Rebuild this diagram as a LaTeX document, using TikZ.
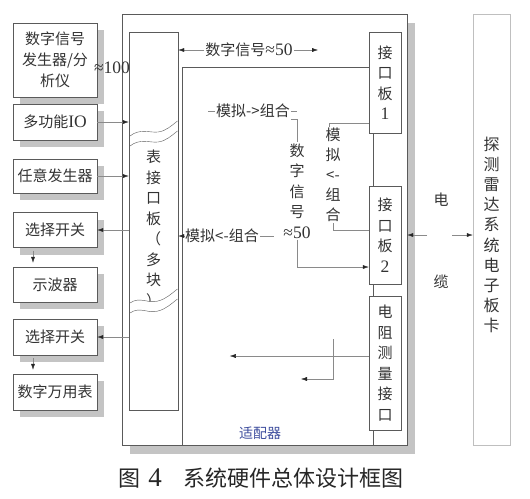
\documentclass[tikz,border=0pt]{standalone}
\usepackage{fontspec}
\setmainfont{Liberation Serif}
\newfontfamily\cjk{Noto Sans CJK SC}
\usepackage{tikz}
\usetikzlibrary{arrows.meta, positioning, shadows, calc}
\definecolor{linec}{HTML}{5A5A5A}
\definecolor{connc}{HTML}{8A8A8A}
\definecolor{shadec}{HTML}{C4C4C4}
\definecolor{txtc}{HTML}{333333}
\definecolor{adaptc}{HTML}{3E4E9E}
\newcommand{\lat}[1]{{\rmfamily\fontsize{17.5}{17.5}\selectfont #1}}

\begin{document}
\begin{tikzpicture}[x=1pt, y=-1pt,
  devbox/.style={draw=linec, fill=white, text=txtc, minimum width=84pt, inner sep=1pt, align=center,
    font=\cjk\fontsize{15}{21}\selectfont,
    drop shadow={shadow xshift=7pt, shadow yshift=-7pt, fill=shadec, opacity=1}},
  panel/.style={draw=linec, fill=white, inner sep=0pt},
  vstack/.style={text=txtc, align=center, inner sep=1pt, font=\cjk\fontsize{15}{20.5}\selectfont},
  lbl/.style={text=txtc, inner sep=1pt, font=\cjk\fontsize{15}{18}\selectfont},
  link/.style={draw=connc},
  flow/.style={link, -{Latex[length=6pt, width=4pt, color=black!85]}},
]
  \useasboundingbox (0,0) rectangle (530,498);

  % instruments on the left
  \node[devbox, minimum height=74pt] (sig) at (55,60) {数字信号\\发生器/分\\析仪};
  \node[devbox, minimum height=36pt] (mio) at (55,122) {多功能\lat{IO}};
  \node[devbox, minimum height=34pt] (awg) at (55,176) {任意发生器};
  \node[devbox, minimum height=35pt] (swa) at (55,230) {选择开关};
  \node[devbox, minimum height=35pt] (osc) at (55,284.5) {示波器};
  \node[devbox, minimum height=36pt] (swb) at (55,337) {选择开关};
  \node[devbox, minimum height=36pt] (dmm) at (55,392) {数字万用表};

  % adapter frame
  \node[panel, minimum width=285pt, minimum height=431pt,
    drop shadow={shadow xshift=8pt, shadow yshift=-9pt, fill=shadec, opacity=1}] (outer) at (264.5,229.5) {};
  \node[panel, minimum width=191pt, minimum height=378pt] (adapt) at (277.5,256) {};
  \node[panel, minimum width=49pt, minimum height=378pt] (bj) at (153.5,221) {};
  \node[vstack] (bjt) at (153.5,229) {表\\接\\口\\板\\（\\多\\块\\）};

  % broken-off marks
  \fill[white] (130,136) .. controls (140,128) and (150,133) .. (158,132) .. controls (166,131) and (171,126) .. (177.5,121)
    -- (177.5,131) .. controls (171,136) and (166,141) .. (158,142) .. controls (150,143) and (140,138) .. (130,146) -- cycle;
  \draw[linec] (130,136) .. controls (140,128) and (150,133) .. (158,132) .. controls (166,131) and (171,126) .. (177.5,121);
  \draw[linec] (130,146) .. controls (140,138) and (150,143) .. (158,142) .. controls (166,141) and (171,136) .. (177.5,131);
  \fill[white] (130,303) .. controls (140,296) and (148,304) .. (158,301) .. controls (166,299) and (171,294) .. (177.5,289)
    -- (177.5,299) .. controls (171,304) and (166,309) .. (158,311) .. controls (148,314) and (140,306) .. (130,313) -- cycle;
  \draw[linec] (130,303) .. controls (140,296) and (148,304) .. (158,301) .. controls (166,299) and (171,294) .. (177.5,289);
  \draw[linec] (130,313) .. controls (140,306) and (148,314) .. (158,311) .. controls (166,309) and (171,304) .. (177.5,299);

  \node[panel, vstack, minimum width=32pt, minimum height=101pt] (jk1) at (385,82.5) {接\\口\\板\\\lat{1}};
  \node[panel, vstack, minimum width=32pt, minimum height=98pt] (jk2) at (385,235) {接\\口\\板\\\lat{2}};
  \node[panel, vstack, minimum width=32pt, minimum height=134pt] (dz) at (385,363) {电\\阻\\测\\量\\接\\口};
  \node[text=adaptc, font=\cjk\fontsize{14}{14}\selectfont] (adlbl) at (260,433) {适配器};

  % radar board
  \node[draw=black!25, minimum width=37pt, minimum height=431pt, inner sep=0pt] (radar) at (491.5,229.5) {};
  \node[vstack, font=\cjk\fontsize{16}{20.2}\selectfont] (radart) at (491.5,235) {探\\测\\雷\\达\\系\\统\\电\\子\\板\\卡};

  % labels
  \node[text=txtc, inner sep=1pt] (n100) at (112,68) {\lat{≈100}};
  \node[lbl] (szh) at (249,50) {数字信号\lat{≈50}};
  \node[lbl] (mh) at (253,111) {模拟->组合};
  \node[vstack] (szv) at (297,191) {数\\字\\信\\号\\\lat{≈50}};
  \node[vstack, font=\cjk\fontsize{15}{20}\selectfont] (mv) at (333,175) {模\\拟\\<-\\组\\合};
  \node[lbl] (mhl) at (222,236) {模拟<-组合};
  \node[lbl] (dian) at (441,200) {电};
  \node[lbl] (lan) at (441,282) {缆};

  % connections
  \draw[flow] (mio.east) -- (bj.west |- mio.east);
  \draw[flow] (awg.east) -- (bj.west |- awg.east);
  \draw[flow] (bj.west |- swa.east) -- (swa.east);
  \draw[flow] (bj.west |- swb.east) -- (swb.east);
  \draw[flow, shorten <=3pt, shorten >=4pt] ([xshift=-22pt]swa.south) -- ([xshift=-22pt]osc.north);
  \draw[flow, shorten <=3pt, shorten >=4pt] ([xshift=-22pt]swb.south) -- ([xshift=-22pt]dmm.north);

  \coordinate (szend) at (318,50);
  \draw[flow] (szh.west) -- (bj.east |- szh.west);
  \draw[flow] (szh.east) -- (szend);
  \draw[link] (mh.west) -- ++(-7,0);
  \draw[link] (mh.east) -- ++(6,0);
  \draw[link] (mh.south east) -| (szv.north);
  \draw[flow] (szv.south) |- ([yshift=-32pt]jk2.west);
  \draw[link] ([yshift=-40.5pt]jk1.west) -| ([xshift=-4pt]mv.north);
  \draw[link] (mv.south) |- ([yshift=5pt]jk2.west);
  \draw[flow] (mhl.west) -- (bj.east |- mhl.west);
  \draw[link] (mhl.east) -- ++(14,0);

  \coordinate (drtop) at (333,339);
  \coordinate (drend) at (301,379);
  \draw[flow] ([yshift=7pt]dz.west) -- ++(-139,0);
  \draw[flow] (drtop) |- (drend);

  \coordinate (cabl) at (427,235);
  \coordinate (cabr) at (452,235);
  \draw[flow] (cabl) -- (outer.east |- cabl);
  \draw[flow] (cabr) -- (radar.west |- cabr);

  % caption
  \node[text=black!85, font=\fontsize{22}{22}\selectfont] (cap) at (261,478)
    {{\cjk 图}\hspace{8pt}{\fontsize{27}{27}\selectfont 4}\hspace{22pt}{\cjk 系统硬件总体设计框图}};
\end{tikzpicture}
\end{document}
